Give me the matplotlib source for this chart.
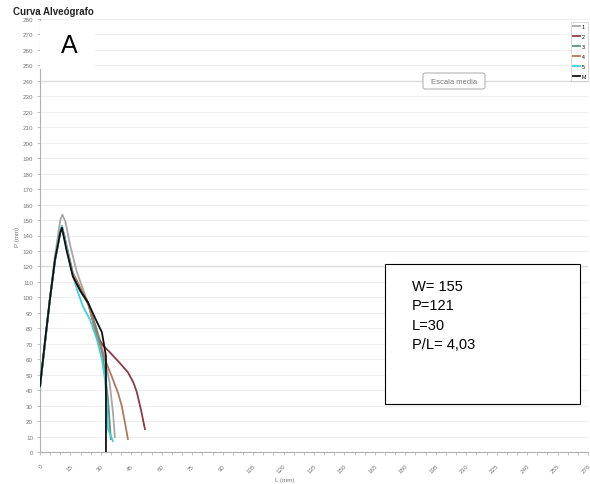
import matplotlib
matplotlib.use("Agg")
import matplotlib.pyplot as plt
from matplotlib.patches import Rectangle, FancyBboxPatch

plt.rcParams['font.family'] = ['Liberation Sans', 'DejaVu Sans']

# Alveograph curves: L (mm) vs P (mm)
l1 = [0, 4.9, 7.5, 10.0, 11.0, 12.5, 14.8, 18.0, 22.1, 26.0, 29.5, 32.0, 34.4, 36.0, 36.9]
p1 = [42, 100, 128, 150, 153.5, 149, 134, 117, 102, 87, 73, 60, 44, 25, 9.7]

l2 = [0, 4.9, 7.4, 10.0, 10.8, 12.0, 13.0, 16.2, 20.0, 23.6, 28.0, 31.0, 34.4, 39.0, 43.3, 46.0, 47.7, 49.8, 51.7]
p2 = [42, 99, 124, 142, 145, 140, 133, 115, 104, 97, 75, 69, 64.5, 58, 51.6, 45, 38.7, 27, 14.8]

l3 = [0, 4.9, 7.4, 10.0, 10.8, 13.0, 16.2, 20.0, 23.6, 27.5, 31.0, 33.5, 34.9]
p3 = [42, 99, 124, 142, 146, 132, 114, 104, 96, 81, 62, 34, 8.4]

l4 = [0, 4.9, 7.4, 10.0, 10.8, 13.0, 16.2, 20.0, 24.0, 28.0, 32.0, 35.9, 38.5, 40.3, 42.0, 43.3]
p4 = [42, 99, 124, 143, 146, 134, 116, 106, 95, 75, 60, 47, 38, 29.7, 18, 8.4]

l5 = [0, 4.9, 7.4, 10.0, 10.8, 13.0, 16.2, 18.5, 21.2, 24.5, 28.0, 30.5, 32.0, 33.0, 33.5, 35.9]
p5 = [42, 99, 124, 143, 146, 133, 114, 104, 94, 86, 73, 60, 47, 30, 14.8, 7.1]

lm = [0, 2.5, 4.9, 7.4, 10.0, 10.8, 13.0, 16.2, 20.0, 23.6, 27.0, 30.5, 32.5, 32.5]
pm = [42.6, 72, 99, 124.5, 142, 145, 131, 113.5, 104, 96.8, 87, 77.4, 62, 0]

series = [("1", l1, p1, "#a8a8a8"),
          ("2", l2, p2, "#8c3b4a"),
          ("3", l3, p3, "#5f8f7a"),
          ("4", l4, p4, "#b07a5a"),
          ("5", l5, p5, "#3fd0e0"),
          ("M", lm, pm, "#111111")]

x_ticks = list(range(0, 271, 15))
y_ticks = list(range(0, 281, 10))

summary = "W= 155\nP=121\nL=30\nP/L= 4,03"

fig = plt.figure(figsize=(5.9, 4.85), dpi=100)
ax = fig.add_axes([40 / 590, 1 - 453 / 485, 548 / 590, 433 / 485])

for y in y_ticks:
    strong = y in (120, 240)
    ax.axhline(y, color="#dadada" if strong else "#efefef",
               lw=1.0 if strong else 0.8, zorder=0)

for name, lx, py, col in series:
    ax.plot(lx, py, color=col, lw=1.3, label=name, zorder=3)

ax.set_xlim(0, 270)
ax.set_ylim(0, 280)
ax.set_xticks(x_ticks)
ax.set_xticklabels([str(v) for v in x_ticks], rotation=45, ha="right",
                   rotation_mode="anchor", fontsize=4.5, color="#777777")
ax.set_xticks([v + 5 * k for v in x_ticks[:-1] for k in (1, 2)], minor=True)
ax.set_yticks(y_ticks)
ax.set_yticklabels([str(v) for v in y_ticks], fontsize=4.5, color="#777777")
ax.tick_params(axis="both", which="both", length=2, width=0.5, color="#aaaaaa", pad=3)
ax.tick_params(axis="x", which="major", pad=6)
for side in ("top", "right"):
    ax.spines[side].set_visible(False)
for side in ("left", "bottom"):
    ax.spines[side].set_color("#b0b0b0")
    ax.spines[side].set_linewidth(0.8)
ax.set_xlabel("L (mm)", fontsize=4.5, color="#777777")
ax.xaxis.set_label_coords((285 - 40) / 548, -25 / 433)
ax.set_ylabel("P (mm)", fontsize=4.5, color="#777777", labelpad=2)

leg = ax.legend(loc="upper right", bbox_to_anchor=(1.005, 1.0), fontsize=3.8,
                handlelength=1.4, handletextpad=0.3, borderpad=0.4,
                labelspacing=0.95, frameon=True, fancybox=False)
leg.get_frame().set_edgecolor("#bbbbbb")
leg.get_frame().set_linewidth(0.5)

# white panel with panel letter
fig.patches.append(Rectangle((40 / 590, 1 - 70 / 485), 55 / 590, 48 / 485,
                             transform=fig.transFigure, facecolor="white",
                             edgecolor="none", zorder=5))
fig.text(69 / 590, 1 - 46 / 485, "A", fontsize=18, ha="center", va="center", zorder=6)

fig.text(13 / 590, 1 - 12 / 485, "Curva Alveógrafo", fontsize=7, fontweight="bold",
         ha="left", va="center", color="#222222")

# scale button
fig.patches.append(FancyBboxPatch((423 / 590, 1 - 90 / 485), 62 / 590, 16 / 485,
                                  boxstyle="round,pad=0,rounding_size=0.004",
                                  transform=fig.transFigure, facecolor="white",
                                  edgecolor="#aaaaaa", lw=0.7, zorder=5))
fig.text(454 / 590, 1 - 82 / 485, "Escala media", fontsize=5.5, ha="center",
         va="center", color="#777777", zorder=6)

# summary box
fig.patches.append(Rectangle((385 / 590, 1 - 405 / 485), 195 / 590, 140 / 485,
                             transform=fig.transFigure, facecolor="white",
                             edgecolor="black", lw=0.8, zorder=5))
fig.text(412 / 590, 1 - 316 / 485, summary, fontsize=10.5, ha="left", va="center",
         linespacing=1.48, zorder=6)

fig.savefig("out.png", dpi=100)
